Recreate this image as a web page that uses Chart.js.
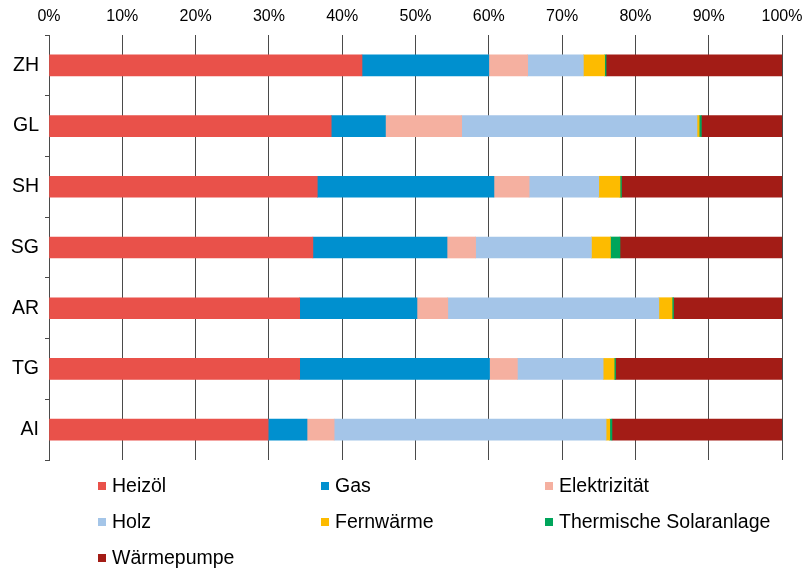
<!DOCTYPE html>
<html lang="de">
<head>
<meta charset="utf-8">
<title>Energieträger der Heizungen nach Kanton</title>
<script src="https://cdn.jsdelivr.net/npm/chart.js@4.4.1/dist/chart.umd.min.js"></script>
<style>
  html, body { margin: 0; padding: 0; background: #ffffff; }
  #wrap { width: 806px; height: 569px; }
</style>
</head>
<body>
<div id="wrap"><canvas id="chart" width="806" height="569"></canvas></div>
<script>
// Kantone
const categories = ['ZH', 'GL', 'SH', 'SG', 'AR', 'TG', 'AI'];

// Anteile der Energieträger in Prozent
const heizoel       = [42.7, 38.5, 36.6, 36.0, 34.2, 34.2, 29.9];
const gas           = [17.3,  7.4, 24.1, 18.3, 16.0, 25.9,  5.3];
const elektrizitaet = [ 5.3, 10.4,  4.8,  3.9,  4.2,  3.8,  3.7];
const holz          = [ 7.6, 32.1,  9.5, 15.8, 28.8, 11.7, 37.1];
const fernwaerme    = [ 2.9,  0.3,  2.9,  2.6,  1.8,  1.5,  0.5];
const solar         = [ 0.2,  0.3,  0.2,  1.3,  0.2,  0.2,  0.3];
const waermepumpe   = [24.0, 11.0, 21.9, 22.1, 14.8, 22.7, 23.2];

// Achsenbeschriftung
const tickValues = [0, 10, 20, 30, 40, 50, 60, 70, 80, 90, 100];
const tickLabels = tickValues.map(v => v + '%');

const seriesNames = ['Heizöl', 'Gas', 'Elektrizität', 'Holz', 'Fernwärme', 'Thermische Solaranlage', 'Wärmepumpe'];
const seriesValues = [heizoel, gas, elektrizitaet, holz, fernwaerme, solar, waermepumpe];
const seriesColors = ['#E9514A', '#0090CF', '#F5B0A0', '#A4C5E8', '#FDBB00', '#00A55B', '#A31C16'];

const FONT = "'Liberation Sans', Arial, Helvetica, sans-serif";
const AXIS_COLOR = '#4a4a4a';

// Legende in drei Spalten unter dem Diagramm
const gridLegend = {
  id: 'gridLegend',
  afterDraw(chart) {
    const ctx = chart.ctx;
    const colX = [98, 321, 545];
    const rowY = [486, 522, 558];
    const box = 8;
    ctx.save();
    ctx.font = '19.5px ' + FONT;
    ctx.textBaseline = 'middle';
    ctx.textAlign = 'left';
    chart.data.datasets.forEach((ds, i) => {
      const x = colX[i % 3];
      const y = rowY[Math.floor(i / 3)];
      ctx.fillStyle = ds.backgroundColor;
      ctx.fillRect(x, y - box / 2, box, box);
      ctx.fillStyle = '#000000';
      ctx.fillText(ds.label, x + 14, y + 0.5);
    });
    ctx.restore();
  }
};

new Chart(document.getElementById('chart'), {
  type: 'bar',
  data: {
    labels: categories,
    datasets: seriesNames.map((name, i) => ({
      label: name,
      data: seriesValues[i],
      backgroundColor: seriesColors[i],
      borderWidth: 0,
      barThickness: 21
    }))
  },
  options: {
    indexAxis: 'y',
    responsive: false,
    animation: false,
    layout: { padding: { top: 0, left: 0, right: 24, bottom: 109 } },
    plugins: {
      legend: { display: false },
      tooltip: { enabled: false }
    },
    scales: {
      x: {
        position: 'top',
        stacked: true,
        min: 0,
        max: 100,
        afterBuildTicks(scale) {
          scale.ticks = tickValues.map(v => ({ value: v }));
        },
        afterFit(scale) {
          scale.height = 35;
          // die Randbeschriftungen dürfen in den Seitenrand ragen
          scale.paddingLeft = 0;
          scale.paddingRight = 0;
        },
        ticks: {
          callback: (v, idx) => tickLabels[idx],
          font: { family: FONT, size: 16 },
          color: '#000000',
          padding: 9,
          maxRotation: 0
        },
        grid: {
          color: AXIS_COLOR,
          lineWidth: 1,
          drawTicks: false
        },
        border: { display: false }
      },
      y: {
        stacked: true,
        afterFit(scale) { scale.width = 49; },
        ticks: {
          font: { family: FONT, size: 19.5 },
          color: '#000000',
          padding: 6
        },
        grid: {
          offset: true,
          drawOnChartArea: false,
          drawTicks: true,
          tickLength: 4,
          color: AXIS_COLOR,
          lineWidth: 1
        },
        border: { display: true, color: AXIS_COLOR, width: 1 }
      }
    }
  },
  plugins: [gridLegend]
});
</script>
</body>
</html>
